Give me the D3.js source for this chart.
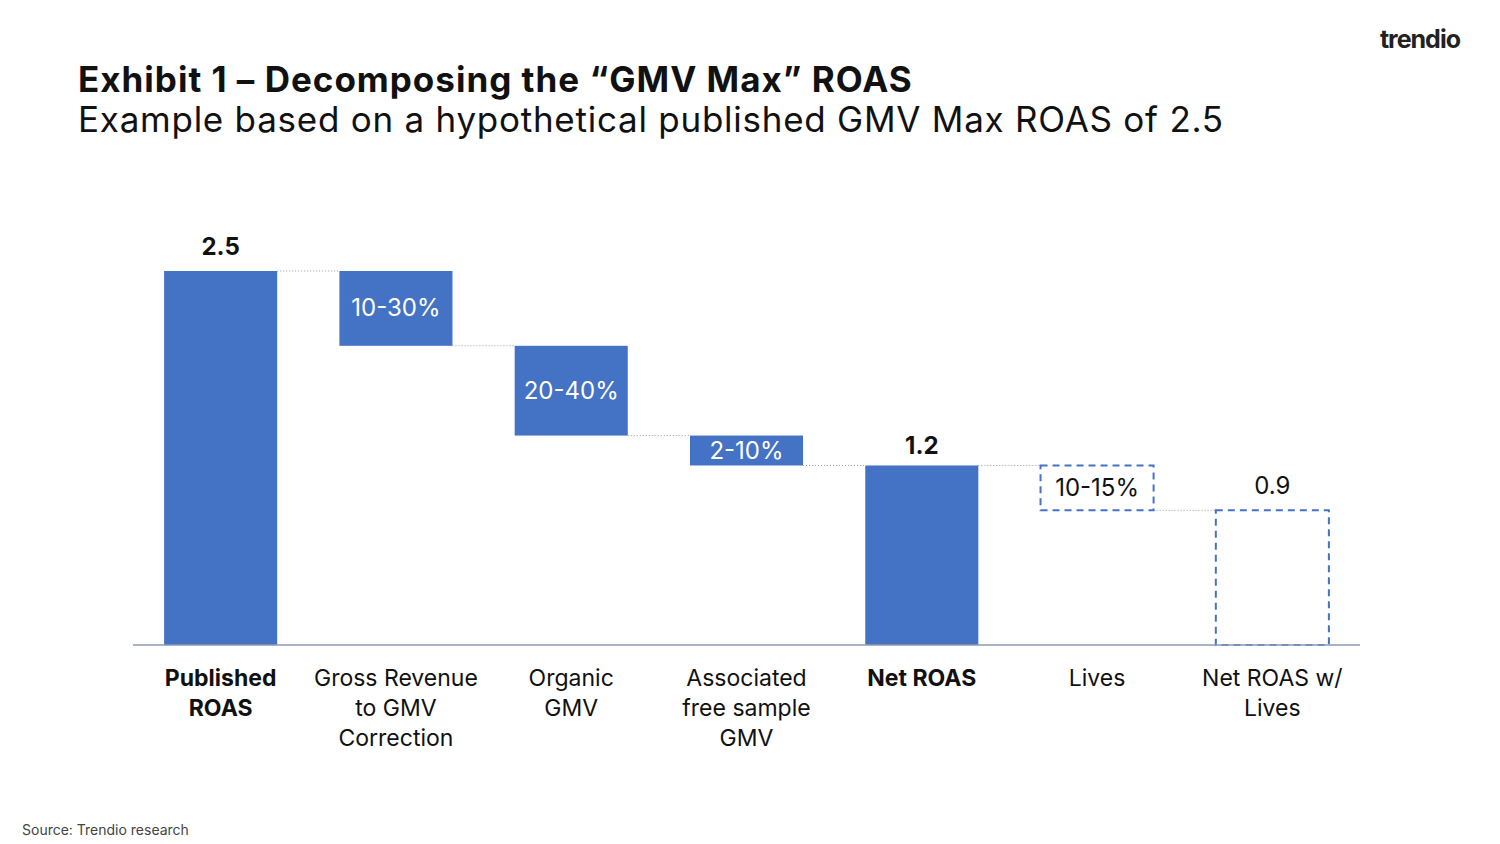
<!DOCTYPE html>
<html><head><meta charset="utf-8">
<script src="https://cdn.jsdelivr.net/npm/d3@7"></script>
<style>body{margin:0;background:#fff;font-family:Inter,"Noto Sans",sans-serif}</style>
</head><body><svg id="c" width="1500" height="844"></svg>
<script>
const categories = [['Published', 'ROAS'], ['Gross Revenue', 'to GMV', 'Correction'], ['Organic', 'GMV'], ['Associated', 'free sample', 'GMV'], ['Net ROAS'], ['Lives'], ['Net ROAS w/', 'Lives']]
// waterfall: start and end level of each step
const starts = [0, 2.5, 2.0, 1.4, 0, 1.2, 0]
const ends = [2.5, 2.0, 1.4, 1.2, 1.2, 0.9, 0.9]
const barLabels = ['2.5', '10-30%', '20-40%', '2-10%', '1.2', '10-15%', '0.9']
const dashed = [false, false, false, false, false, true, true]
const totals = [true, false, false, false, true, false, true]

const svg = d3.select('#c')
const blue = '#4472C4'

svg.append('text').attr('x', 78).attr('y', 92).attr('font-size', 35).attr('font-weight', 700).attr('fill', '#111')
  .attr('letter-spacing', 1).text('Exhibit 1 – Decomposing the “GMV Max” ROAS')
svg.append('text').attr('x', 78).attr('y', 132).attr('font-size', 35).attr('fill', '#111')
  .attr('letter-spacing', 0.75).text('Example based on a hypothetical published GMV Max ROAS of 2.5')
svg.append('text').attr('x', 1460).attr('y', 48).attr('text-anchor', 'end').attr('font-size', 25).attr('font-weight', 700).attr('fill', '#222')
  .attr('letter-spacing', -1).text('trendio')
svg.append('text').attr('x', 22).attr('y', 835).attr('font-size', 14).attr('fill', '#444').text('Source: Trendio research')

const x = d3.scaleBand().domain(d3.range(categories.length)).range([133, 1360]).paddingInner(0.355).paddingOuter(0.1775)
const y = d3.scaleLinear().domain([0, 2.5]).range([645, 271])

// connectors
for (let i = 0; i < categories.length - 1; i++) {
  svg.append('line').attr('x1', x(i) + x.bandwidth()).attr('x2', x(i + 1))
    .attr('y1', y(ends[i])).attr('y2', y(ends[i])).attr('stroke', '#999').attr('stroke-width', 1).attr('stroke-dasharray', '1,2')
}

categories.forEach((c, i) => {
  const top = y(Math.max(starts[i], ends[i])), bot = y(Math.min(starts[i], ends[i]))
  const r = svg.append('rect').attr('x', x(i)).attr('width', x.bandwidth()).attr('y', top).attr('height', bot - top)
  if (dashed[i]) r.attr('fill', 'none').attr('stroke', blue).attr('stroke-width', 2).attr('stroke-dasharray', '7,5')
  else r.attr('fill', blue)
  const cx = x(i) + x.bandwidth() / 2
  const t = svg.append('text').attr('x', cx).attr('text-anchor', 'middle').attr('font-size', 24).text(barLabels[i])
  if (totals[i]) {
    t.attr('y', top - (i === 4 ? 11 : 16)).attr('fill', '#111').attr('font-weight', dashed[i] ? 400 : 700)
  } else {
    t.attr('y', (top + bot) / 2 + 8).attr('fill', dashed[i] ? '#111' : '#fff')
  }
  c.forEach((line, j) => {
    svg.append('text').attr('x', cx).attr('y', 686 + j * 30).attr('text-anchor', 'middle').attr('font-size', 23)
      .attr('font-weight', totals[i] && !dashed[i] ? 700 : 400).attr('fill', '#111').text(line)
  })
})

svg.append('line').attr('x1', 133).attr('x2', 1360).attr('y1', y(0)).attr('y2', y(0)).attr('stroke', '#8a9bb5').attr('stroke-width', 1.5)
</script></body></html>
